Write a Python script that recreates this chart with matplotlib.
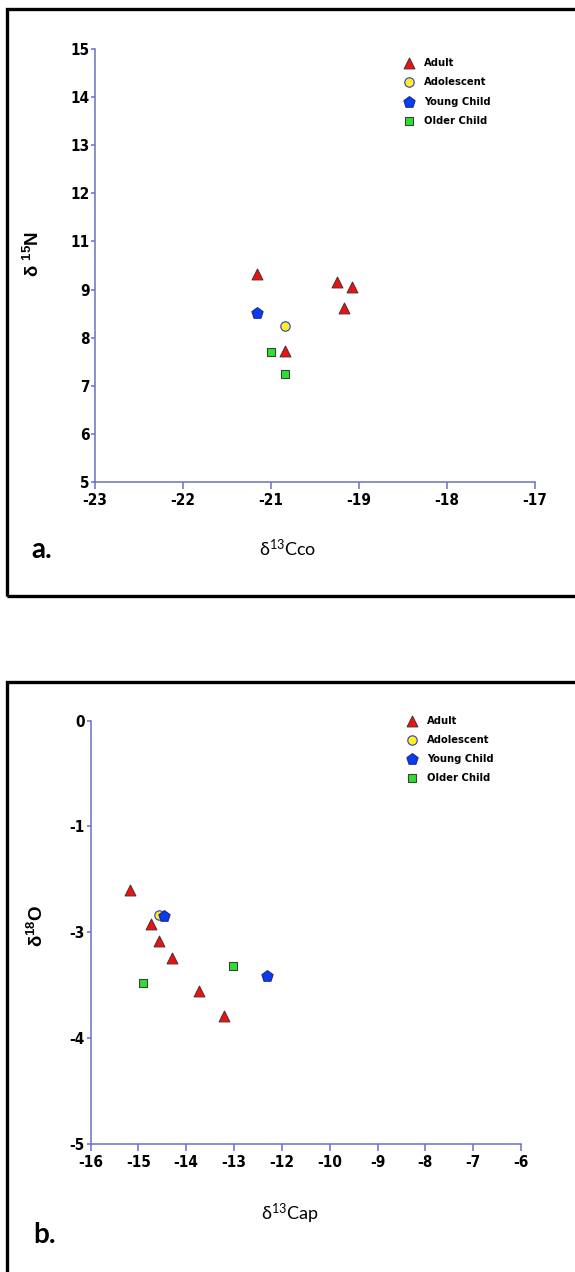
import matplotlib
matplotlib.use("Agg")
import matplotlib.pyplot as plt
from matplotlib.patches import Rectangle

plt.rcParams['mathtext.default'] = 'regular'

W, H = 575, 1272

# nhóm và kiểu điểm
groups = ["Adult", "Adolescent", "Young Child", "Older Child"]
markers = ["^", "o", "p", "s"]
faces = ["#ee1111", "#ffee22", "#0a3cf0", "#2ee02e"]
edges = ["#5a3030", "#2f3fc0", "#1a2a90", "#404040"]
sizes = [60, 46, 72, 40]

# --- hình a: d13C collagen vs d15N ---
a_x = {
    "Adult": [-21.16, -20.25, -20.08, -20.17, -20.84],
    "Adolescent": [-20.84],
    "Young Child": [-21.16],
    "Older Child": [-21.00, -20.84],
}
a_y = {
    "Adult": [9.33, 9.15, 9.05, 8.61, 7.72],
    "Adolescent": [8.25],
    "Young Child": [8.51],
    "Older Child": [7.70, 7.25],
}
a_xticks = [-23, -22, -21, -20, -19, -18]
a_xlabels = ["-23", "-22", "-21", "-19", "-18", "-17"]
a_yticks = [5, 6, 7, 8, 9, 10, 11, 12, 13, 14]
a_ylabels = ["5", "6", "7", "8", "9", "11", "12", "13", "14", "15"]

# --- hình b: d13C apatite vs d18O ---
b_x = {
    "Adult": [-15.18, -14.73, -14.56, -14.29, -13.73, -13.20],
    "Adolescent": [-14.56],
    "Young Child": [-14.46, -12.30],
    "Older Child": [-14.90, -13.03],
}
b_y = {
    "Adult": [-2.60, -2.92, -3.08, -3.24, -3.55, -3.79],
    "Adolescent": [-2.84],
    "Young Child": [-2.85, -3.41],
    "Older Child": [-3.48, -3.32],
}
b_xticks = [-16, -15, -14, -13, -12, -11, -10, -9, -8, -7]
b_xlabels = ["-16", "-15", "-14", "-13", "-12", "-10", "-9", "-8", "-7", "-6"]
b_yticks = [-5, -4, -3, -2, -1]
b_ylabels = ["-5", "-4", "-3", "-1", "0"]

axis_blue = "#6b70c8"
narrow = ["DejaVu Sans"]
label_font = ["Lato", "DejaVu Sans"]


def fx(px):
    return px / W


def fy(py):
    return 1 - py / H


fig = plt.figure(figsize=(W / 100, H / 100), dpi=100)

# khung đen quanh mỗi hình
fig.patches.append(Rectangle((fx(6.5), fy(596)), fx(600), fy(8.5) - fy(596),
                             transform=fig.transFigure, fill=False,
                             edgecolor="black", linewidth=2.4))
fig.patches.append(Rectangle((fx(6.5), fy(1290)), fx(600), fy(682) - fy(1290),
                             transform=fig.transFigure, fill=False,
                             edgecolor="black", linewidth=2.4))


def make_panel(rect, xs, ys, xticks, xlabels, yticks, ylabels,
               xlabel, ylabel, xl_pos, yl_pos, leg_anchor, leg_space):
    ax = fig.add_axes(rect)
    for g, m, fc, ec, s in zip(groups, markers, faces, edges, sizes):
        ax.scatter(xs[g], ys[g], marker=m, s=s, facecolor=fc, edgecolor=ec,
                   linewidth=0.8, label=g, zorder=3)
    ax.set_xlim(xticks[0], xticks[-1])
    ax.set_ylim(yticks[0], yticks[-1])
    ax.set_xticks(xticks)
    ax.set_xticklabels(xlabels)
    ax.set_yticks(yticks)
    ax.set_yticklabels(ylabels)
    for sp in ["top", "right"]:
        ax.spines[sp].set_visible(False)
    for sp in ["left", "bottom"]:
        ax.spines[sp].set_color(axis_blue)
        ax.spines[sp].set_linewidth(1.1)
    ax.tick_params(axis="x", direction="out", length=5, width=1.1,
                   color=axis_blue, pad=3)
    ax.tick_params(axis="y", direction="out", length=3, width=1.1,
                   color=axis_blue, pad=1)
    for t in ax.get_xticklabels() + ax.get_yticklabels():
        t.set_family(narrow)
        t.set_stretch("condensed")
        t.set_fontweight("bold")
        t.set_fontsize(11)
    ax.set_xlabel(xlabel, family=label_font, fontsize=13)
    ax.xaxis.set_label_coords(*xl_pos)
    ax.set_ylabel(ylabel, family=["Liberation Sans", "DejaVu Sans"],
                  fontsize=13.5, fontweight="bold")
    ax.yaxis.set_label_coords(*yl_pos)
    ax.xaxis.label.set_va("center")
    ax.yaxis.label.set_va("center")
    ax.legend(loc="upper left", bbox_to_anchor=leg_anchor,
              bbox_transform=fig.transFigure, frameon=False,
              borderpad=0, borderaxespad=0, handlelength=1.0,
              handletextpad=0.9, labelspacing=leg_space,
              prop={"family": narrow, "stretch": "condensed",
                    "weight": "bold", "size": 8})
    return ax


ax_a = make_panel([fx(95), fy(482), fx(535) - fx(95), fy(49) - fy(482)],
                  a_x, a_y, a_xticks, a_xlabels, a_yticks, a_ylabels,
                  "δ$^{13}$Cco", "δ $^{15}$N",
                  ((288 - 95) / 440, (482 - 548) / 433),
                  ((33 - 95) / 440, (482 - 254) / 433),
                  (fx(403), fy(57.5)), 0.86)

ax_b = make_panel([fx(90.5), fy(1144), fx(521) - fx(90.5), fy(720.6) - fy(1144)],
                  b_x, b_y, b_xticks, b_xlabels, b_yticks, b_ylabels,
                  "δ$^{13}$Cap", "δ$^{18}$O",
                  ((290 - 90.5) / 430.5, (1144 - 1214) / 423.4),
                  ((37 - 90.5) / 430.5, (1144 - 926) / 423.4),
                  (fx(406), fy(716)), 0.8)

fig.text(fx(31), fy(550), "a.", family=label_font, fontweight="bold",
         fontsize=20, va="center")
fig.text(fx(33), fy(1235), "b.", family=label_font, fontweight="bold",
         fontsize=20, va="center")

fig.savefig("out.png", dpi=100)
